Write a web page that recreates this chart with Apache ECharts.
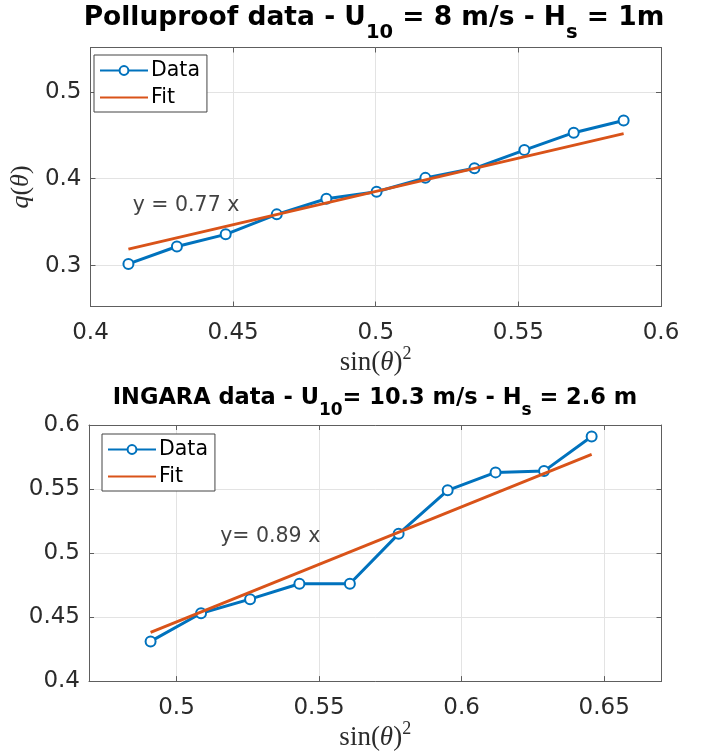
<!DOCTYPE html>
<html>
<head>
<meta charset="utf-8">
<script src="https://cdn.jsdelivr.net/npm/echarts@6/dist/echarts.min.js"></script>
<style>
html,body{margin:0;padding:0;background:#fff;}
#c{width:716px;height:752px;}
</style>
</head>
<body>
<div id="c"></div>
<script>
// Top panel (Polluproof)
const topX = [0.4133, 0.4303, 0.4474, 0.4653, 0.4827, 0.5003, 0.5174, 0.5346, 0.5521, 0.5694, 0.5869];
const topY = [0.302, 0.322, 0.336, 0.359, 0.377, 0.385, 0.401, 0.412, 0.433, 0.453, 0.467];
const topFitX = [0.4133, 0.5869];
const topFitY = [0.319, 0.452];
const topNote = 'y = 0.77 x';
const topNotePos = [0.4148, 0.3686];

// Bottom panel (INGARA)
const botX = [0.4909, 0.5086, 0.5258, 0.5431, 0.5608, 0.5779, 0.5951, 0.6119, 0.6289, 0.6456];
const botY = [0.431, 0.453, 0.464, 0.476, 0.476, 0.515, 0.549, 0.563, 0.564, 0.591];
const botFitX = [0.4909, 0.6456];
const botFitY = [0.438, 0.577];
const botNote = 'y= 0.89 x';
const botNotePos = [0.5153, 0.5129];

const seriesNames = ['Data', 'Fit'];

const pairs = (xs, ys) => xs.map((x, i) => [x, ys[i]]);

const BLUE = '#0072BD', ORANGE = '#D95319';
const AX = '#5e5e5e', GRIDC = '#e3e3e3', TXT = '#2b2b2b';
const SANS = 'DejaVu Sans';
const SERIF = 'Liberation Serif';

function fmt(step) {
  return function (v) {
    const r = Math.round(v / step) * step;
    if (Math.abs(v - r) > 1e-7) return '';
    return String(+r.toFixed(3));
  };
}

function mainX(grid, min, max, step, opts) {
  return Object.assign({
    type: 'value', gridIndex: grid, min: min, max: max, position: 'bottom',
    axisLine: {show: true, lineStyle: {color: AX, width: 1}},
    axisTick: {show: true, inside: true, length: 5, lineStyle: {color: AX}},
    splitLine: {show: true, lineStyle: {color: GRIDC, width: 1}},
    axisLabel: {show: true, color: TXT, fontFamily: SANS, fontSize: 23, margin: 15, formatter: fmt(step), hideOverlap: false},
    name: '{r|sin(}{i|θ}{r|)}{s|2}', nameLocation: 'middle', nameGap: 35,
    nameTextStyle: {
      rich: {
        r: {fontFamily: SERIF, fontSize: 27, color: TXT, verticalAlign: 'bottom', lineHeight: 31},
        i: {fontFamily: SERIF, fontStyle: 'italic', fontSize: 27, color: TXT, verticalAlign: 'bottom', lineHeight: 31},
        s: {fontFamily: SERIF, fontSize: 18, color: TXT, verticalAlign: 'top', lineHeight: 31}
      }
    }
  }, opts || {});
}
function mirrorX(grid, min, max, opts) {
  return Object.assign({
    type: 'value', gridIndex: grid, min: min, max: max, position: 'top',
    axisLine: {show: true, lineStyle: {color: AX, width: 1}},
    axisTick: {show: true, inside: true, length: 5, lineStyle: {color: AX}},
    splitLine: {show: false}, axisLabel: {show: false}
  }, opts || {});
}
function mainY(grid, min, max, step, opts) {
  return Object.assign({
    type: 'value', gridIndex: grid, min: min, max: max, position: 'left',
    axisLine: {show: true, lineStyle: {color: AX, width: 1}},
    axisTick: {show: true, inside: true, length: 5, lineStyle: {color: AX}},
    splitLine: {show: true, lineStyle: {color: GRIDC, width: 1}},
    axisLabel: {show: true, color: TXT, fontFamily: SANS, fontSize: 23, margin: 9, formatter: fmt(step), hideOverlap: false}
  }, opts || {});
}
function mirrorY(grid, min, max, opts) {
  return Object.assign({
    type: 'value', gridIndex: grid, min: min, max: max, position: 'right',
    axisLine: {show: true, lineStyle: {color: AX, width: 1}},
    axisTick: {show: true, inside: true, length: 5, lineStyle: {color: AX}},
    splitLine: {show: false}, axisLabel: {show: false}
  }, opts || {});
}

function legendFor(left, top) {
  return {
    data: [
      {name: seriesNames[0]},
      {name: seriesNames[1], itemStyle: {opacity: 0, borderWidth: 0}}
    ],
    orient: 'vertical', left: left, top: top,
    backgroundColor: '#fff', borderColor: '#444', borderWidth: 1,
    padding: [5, 7, 4, 5], itemGap: 6, itemWidth: 48, itemHeight: 11,
    textStyle: {fontFamily: SANS, fontSize: 20.5, color: '#000', padding: [0, 0, 0, -2]},
    selectedMode: false
  };
}

function dataSeries(xi, yi, pts) {
  return {
    name: seriesNames[0], type: 'line', xAxisIndex: xi, yAxisIndex: yi, data: pts,
    symbol: 'emptyCircle', symbolSize: 10, showAllSymbol: true,
    lineStyle: {color: BLUE, width: 3}, itemStyle: {color: BLUE, borderColor: BLUE, borderWidth: 2.6},
    z: 3, animation: false
  };
}
function fitSeries(xi, yi, pts) {
  return {
    name: seriesNames[1], type: 'line', xAxisIndex: xi, yAxisIndex: yi, data: pts,
    symbol: 'none', lineStyle: {color: ORANGE, width: 2.9}, itemStyle: {color: ORANGE},
    z: 4, animation: false
  };
}
function noteSeries(xi, yi, pos, text) {
  return {
    type: 'scatter', xAxisIndex: xi, yAxisIndex: yi, data: [pos], symbolSize: 0,
    silent: true, animation: false, z: 5,
    label: {show: true, position: 'right', distance: 0, formatter: text,
            fontFamily: SANS, fontSize: 20.5, color: '#111'}
  };
}

const chart = echarts.init(document.getElementById('c'), null, {renderer: 'canvas'});
chart.setOption({
  backgroundColor: '#fff',
  animation: false,
  title: [
    {
      text: '{b|Polluproof data - U}{s|10}{b| = 8 m/s - H}{s|s}{b| = 1m}',
      left: 374, top: 5, textAlign: 'center', padding: 0,
      textStyle: {
        rich: {
          b: {fontFamily: SANS, fontWeight: 'bold', fontSize: 26.5, color: '#000', verticalAlign: 'top', lineHeight: 44},
          s: {fontFamily: SANS, fontWeight: 'bold', fontSize: 19.5, color: '#000', verticalAlign: 'top', lineHeight: 44, padding: [18, 0, 0, 0]}
        }
      }
    },
    {
      text: '{b|INGARA data - U}{s|10}{b|= 10.3 m/s - H}{s|s}{b| = 2.6 m}',
      left: 375, top: 387, textAlign: 'center', padding: 0,
      textStyle: {
        rich: {
          b: {fontFamily: SANS, fontWeight: 'bold', fontSize: 22.5, color: '#000', verticalAlign: 'top', lineHeight: 38},
          s: {fontFamily: SANS, fontWeight: 'bold', fontSize: 17, color: '#000', verticalAlign: 'top', lineHeight: 38, padding: [15, 0, 0, 0]}
        }
      }
    }
  ],
  legend: [legendFor(94, 55), legendFor(102, 434)],
  grid: [
    {left: 89, top: 47.5, width: 572, height: 259, containLabel: false},
    {left: 89, top: 425, width: 572.5, height: 261.7, containLabel: false}
  ],
  xAxis: [
    mainX(0, 0.4, 0.6, 0.05, {interval: 0.05}),
    mirrorX(0, 0.4, 0.6, {interval: 0.05}),
    mainX(1, 0.4693, 0.6701, 0.05, {splitNumber: 4}),
    mirrorX(1, 0.4693, 0.6701, {splitNumber: 4})
  ],
  yAxis: [
    mainY(0, 0.253, 0.551, 0.1, {
      splitNumber: 3,
      name: '{i|q}{r|(}{i|θ}{r|)}', nameLocation: 'middle', nameGap: 41, nameRotate: 90,
      nameTextStyle: {
        padding: [0, 20, 0, 0],
        rich: {
          r: {fontFamily: SERIF, fontSize: 26, color: TXT},
          i: {fontFamily: SERIF, fontStyle: 'italic', fontSize: 26, color: TXT}
        }
      }
    }),
    mirrorY(0, 0.253, 0.551, {splitNumber: 3}),
    mainY(1, 0.4, 0.6, 0.05, {interval: 0.05}),
    mirrorY(1, 0.4, 0.6, {interval: 0.05})
  ],
  series: [
    dataSeries(0, 0, pairs(topX, topY)),
    fitSeries(0, 0, pairs(topFitX, topFitY)),
    noteSeries(0, 0, topNotePos, topNote),
    dataSeries(2, 2, pairs(botX, botY)),
    fitSeries(2, 2, pairs(botFitX, botFitY)),
    noteSeries(2, 2, botNotePos, botNote)
  ]
});
</script>
</body>
</html>
